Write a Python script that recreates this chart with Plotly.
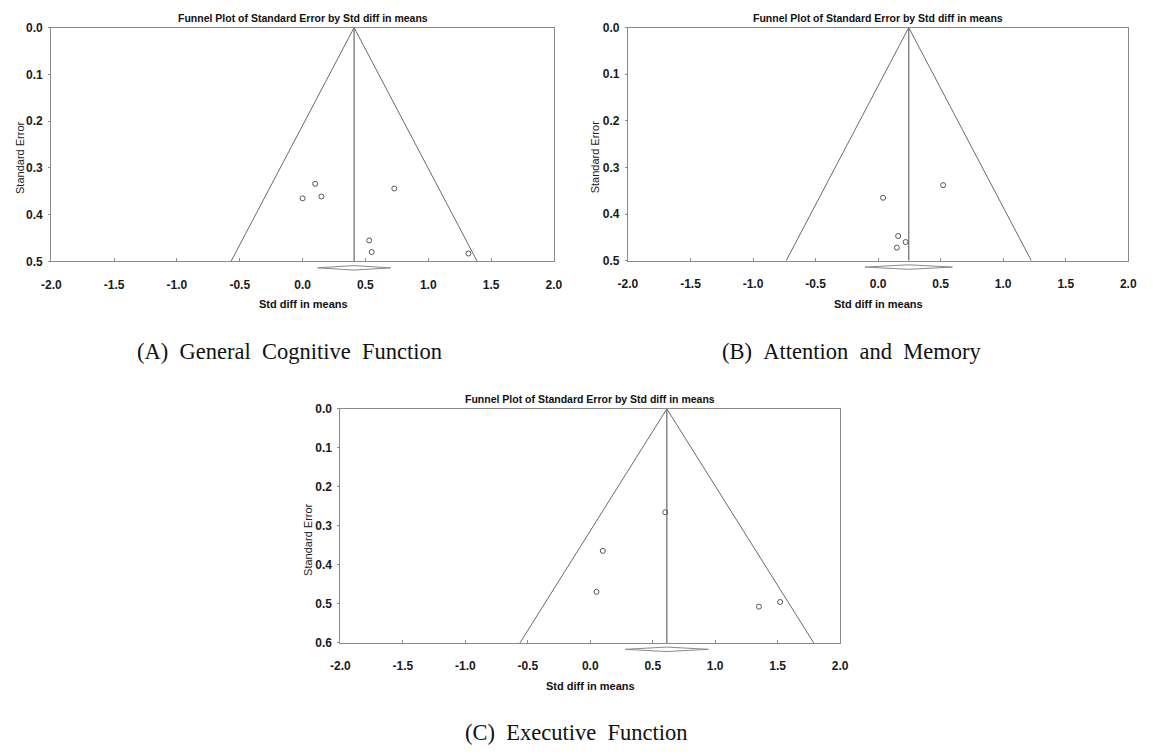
import plotly.graph_objects as go

W, H = 1153, 752

# ---------------- data ----------------
effect_a = [0.10, 0.00, 0.15, 0.73, 0.53, 0.55, 1.32]
se_a = [0.334, 0.365, 0.361, 0.344, 0.455, 0.480, 0.483]
pooled_a = 0.41
ci_a = [0.12, 0.70]
se_max_a = 0.5

effect_b = [0.52, 0.04, 0.16, 0.22, 0.15]
se_b = [0.338, 0.365, 0.447, 0.460, 0.472]
pooled_b = 0.245
ci_b = [-0.105, 0.594]
se_max_b = 0.5

effect_c = [0.60, 0.10, 0.05, 1.35, 1.52]
se_c = [0.265, 0.364, 0.469, 0.507, 0.495]
pooled_c = 0.613
ci_c = [0.281, 0.945]
se_max_c = 0.6

x_tick_values = [-2.0, -1.5, -1.0, -0.5, 0.0, 0.5, 1.0, 1.5, 2.0]
x_tick_labels = ["-2.0", "-1.5", "-1.0", "-0.5", "0.0", "0.5", "1.0", "1.5", "2.0"]
y_tick_values_ab = [0.0, 0.1, 0.2, 0.3, 0.4, 0.5]
y_tick_labels_ab = ["0.0", "0.1", "0.2", "0.3", "0.4", "0.5"]
y_tick_values_c = [0.0, 0.1, 0.2, 0.3, 0.4, 0.5, 0.6]
y_tick_labels_c = ["0.0", "0.1", "0.2", "0.3", "0.4", "0.5", "0.6"]

chart_title = "Funnel Plot of Standard Error by Std diff in means"
x_title = "Std diff in means"
y_title = "Standard Error"
caption_a = "(A) General Cognitive Function"
caption_b = "(B) Attention and Memory"
caption_c = "(C) Executive Function"

Z = 1.96

# ---------------- styling / layout ----------------
SANS = "Liberation Sans, Arial, sans-serif"
SERIF = "Liberation Serif, Times New Roman, serif"
FRAME = "#8a8a8a"
LINE = "#6a6a6a"

panels = [
    dict(eff=effect_a, se=se_a, pooled=pooled_a, ci=ci_a, semax=se_max_a,
         yv=y_tick_values_ab, yl=y_tick_labels_ab,
         box=(42, 21, 553, 259.3),
         title_xy=(298.3, 11), xt_xy=(298, 303), yt_xy=(10, 154),
         caption=caption_a, cap_xy=(284, 351)),
    dict(eff=effect_b, se=se_b, pooled=pooled_b, ci=ci_b, semax=se_max_b,
         yv=y_tick_values_ab, yl=y_tick_labels_ab,
         box=(628.3, 21, 1137, 258.5),
         title_xy=(882.6, 11), xt_xy=(882.6, 303), yt_xy=(595, 153),
         caption=caption_b, cap_xy=(856, 351)),
    dict(eff=effect_c, se=se_c, pooled=pooled_c, ci=ci_c, semax=se_max_c,
         yv=y_tick_values_c, yl=y_tick_labels_c,
         box=(336, 409.5, 844, 648),
         title_xy=(590, 399.5), xt_xy=(590, 692), yt_xy=(303, 543),
         caption=caption_c, cap_xy=(575, 739)),
]


def px(x):
    return x / W


def py(y):
    return 1 - y / H


fig = go.Figure()
layout = dict(
    width=W, height=H,
    margin=dict(l=0, r=0, t=0, b=0),
    paper_bgcolor="white", plot_bgcolor="white",
    showlegend=False,
    annotations=[],
)

for i, p in enumerate(panels):
    main = i + 1
    dia = i + 4
    xm = "x" if main == 1 else f"x{main}"
    ym = "y" if main == 1 else f"y{main}"
    xd, yd = f"x{dia}", f"y{dia}"
    x0, y0, x1, y1 = p["box"]

    layout["xaxis" if main == 1 else f"xaxis{main}"] = dict(
        domain=[px(x0), px(x1)], anchor=ym, range=[-2, 2],
        tickvals=x_tick_values, ticktext=x_tick_labels,
        ticks="inside", ticklen=3, tickcolor=FRAME, tickwidth=1,
        ticklabelstandoff=12,
        showline=True, linecolor=FRAME, linewidth=1.3, mirror=True,
        showgrid=False, zeroline=False,
        tickfont=dict(family=SANS, size=12, color="#1a1a1a", weight="bold"),
    )
    layout["yaxis" if main == 1 else f"yaxis{main}"] = dict(
        domain=[py(y1), py(y0)], anchor=xm, range=[p["semax"], 0],
        tickvals=p["yv"], ticktext=p["yl"],
        ticks="outside", ticklen=2, tickcolor=FRAME, tickwidth=1,
        ticklabelstandoff=3,
        showline=True, linecolor=FRAME, linewidth=1.3, mirror=True,
        showgrid=False, zeroline=False,
        tickfont=dict(family=SANS, size=12, color="#1a1a1a", weight="bold"),
    )
    # hidden axes for the summary diamond just below the plot frame
    layout[f"xaxis{dia}"] = dict(domain=[px(x0), px(x1)], anchor=yd, range=[-2, 2],
                                 visible=False)
    layout[f"yaxis{dia}"] = dict(domain=[py(y1 + 12), py(y1 + 1)], anchor=xd,
                                 range=[-2.4, 2.4], visible=False)

    pooled, semax = p["pooled"], p["semax"]
    # funnel
    fig.add_trace(go.Scatter(
        x=[pooled - Z * semax, pooled, pooled + Z * semax],
        y=[semax, 0, semax], mode="lines",
        line=dict(color=LINE, width=1), xaxis=xm, yaxis=ym, hoverinfo="skip"))
    # pooled effect line
    fig.add_trace(go.Scatter(
        x=[pooled, pooled], y=[0, semax], mode="lines",
        line=dict(color=LINE, width=1.2), xaxis=xm, yaxis=ym, hoverinfo="skip"))
    # studies
    fig.add_trace(go.Scatter(
        x=p["eff"], y=p["se"], mode="markers",
        marker=dict(symbol="circle-open", size=5, color="#555555",
                    line=dict(width=1)),
        xaxis=xm, yaxis=ym, cliponaxis=False))
    # summary diamond
    lo, hi = p["ci"]
    fig.add_trace(go.Scatter(
        x=[lo, pooled, hi, pooled, lo], y=[0, 1, 0, -1, 0], mode="lines",
        fill="toself", fillcolor="white",
        line=dict(color="#8a8a8a", width=1), xaxis=xd, yaxis=yd, hoverinfo="skip"))

    ann = layout["annotations"]
    ann.append(dict(text=chart_title, x=px(p["title_xy"][0]), y=py(p["title_xy"][1]),
                    xref="paper", yref="paper", showarrow=False,
                    xanchor="center", yanchor="middle",
                    font=dict(family=SANS, size=10.5, color="#111", weight="bold")))
    ann.append(dict(text=x_title, x=px(p["xt_xy"][0]), y=py(p["xt_xy"][1]),
                    xref="paper", yref="paper", showarrow=False,
                    xanchor="center", yanchor="middle",
                    font=dict(family=SANS, size=11, color="#111", weight="bold")))
    ann.append(dict(text=y_title, x=px(p["yt_xy"][0]), y=py(p["yt_xy"][1]),
                    xref="paper", yref="paper", showarrow=False, textangle=-90,
                    xanchor="center", yanchor="middle",
                    font=dict(family=SANS, size=11, color="#222")))
    ann.append(dict(text=p["caption"].replace(" ", " \u00a0"),
                    x=px(p["cap_xy"][0]), y=py(p["cap_xy"][1]),
                    xref="paper", yref="paper", showarrow=False,
                    xanchor="center", yanchor="middle",
                    font=dict(family=SERIF, size=22.5, color="#111")))

fig.update_layout(**layout)
fig.write_html(
    "out.html",
    config={"displayModeBar": False},
    post_script="document.body.style.margin='0';document.body.style.padding='0';",
)
